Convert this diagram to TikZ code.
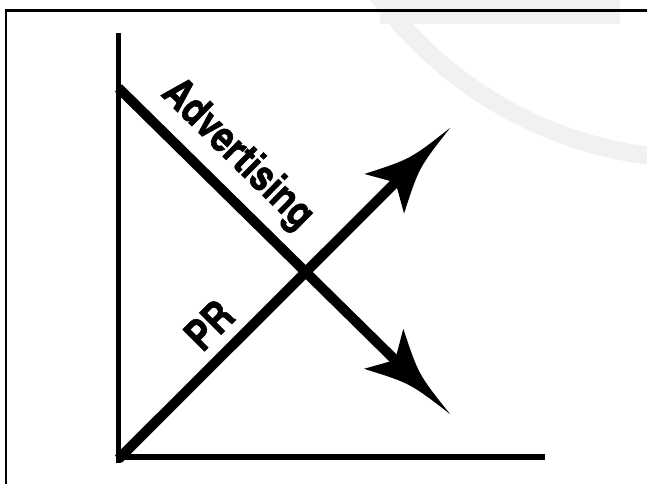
\documentclass[tikz,border=0pt]{standalone}
\usepackage{fontspec}
\newfontfamily\labfont[FakeBold=1.2]{texgyreheroscn-bold.otf}
\definecolor{ringgray}{gray}{0.945}
\tikzset{
  axisline/.style={line width=4.5pt, line cap=butt},
  baseline axis/.style={line width=6pt, line cap=butt},
  thickline/.style={line width=10pt, line cap=butt},
  lab/.style={font=\labfont\fontsize{43}{43}\selectfont, inner sep=0pt},
  framebox/.style={line width=2.2pt},
}
\begin{document}
\begin{tikzpicture}[x=1pt,y=1pt]
\useasboundingbox (0,0) rectangle (647,483);
\clip (0,0) rectangle (647,483);
\fill[white] (0,0) rectangle (647,483);
% faint background ring
\fill[ringgray] (380,459) rectangle (620,483);
\draw[ringgray, line width=18pt] (700,723) circle[radius=399];
% frame
\draw[framebox] (6,-20) -- (6,472.5) -- (700,472.5);
% coordinates
\coordinate (ytop) at (118.5,450);
\coordinate (ybot) at (118.5,20);
\coordinate (xl) at (118.5,26);
\coordinate (xr) at (545,26);
\coordinate (O) at (118.5,24);
\coordinate (prtip) at (450,355);
\coordinate (adstart) at (118.5,395);
\coordinate (adtip) at (450,69);
% axes
\draw[axisline] (ytop) -- (ybot);
\draw[baseline axis] (xl) -- (xr);
% PR line
\draw[thickline, shorten >=72pt] (O) -- (prtip);
\fill[shift={(prtip)}, rotate=45]
  (0,0) .. controls (-50,6) .. (-93,28) -- (-77,0) -- (-93,-28) .. controls (-50,-6) .. (0,0) -- cycle;
% Advertising line
\draw[thickline, shorten >=72pt] (adstart) -- (adtip);
\fill[shift={(adtip)}, rotate=-44.5]
  (0,0) .. controls (-50,6) .. (-93,28) -- (-77,0) -- (-93,-28) .. controls (-50,-6) .. (0,0) -- cycle;
% labels
\node[lab, rotate=-44.5] (adlab) at (237,328) {Advertising};
\node[lab, rotate=45] (prlab) at (209,158) {PR};
\end{tikzpicture}
\end{document}
